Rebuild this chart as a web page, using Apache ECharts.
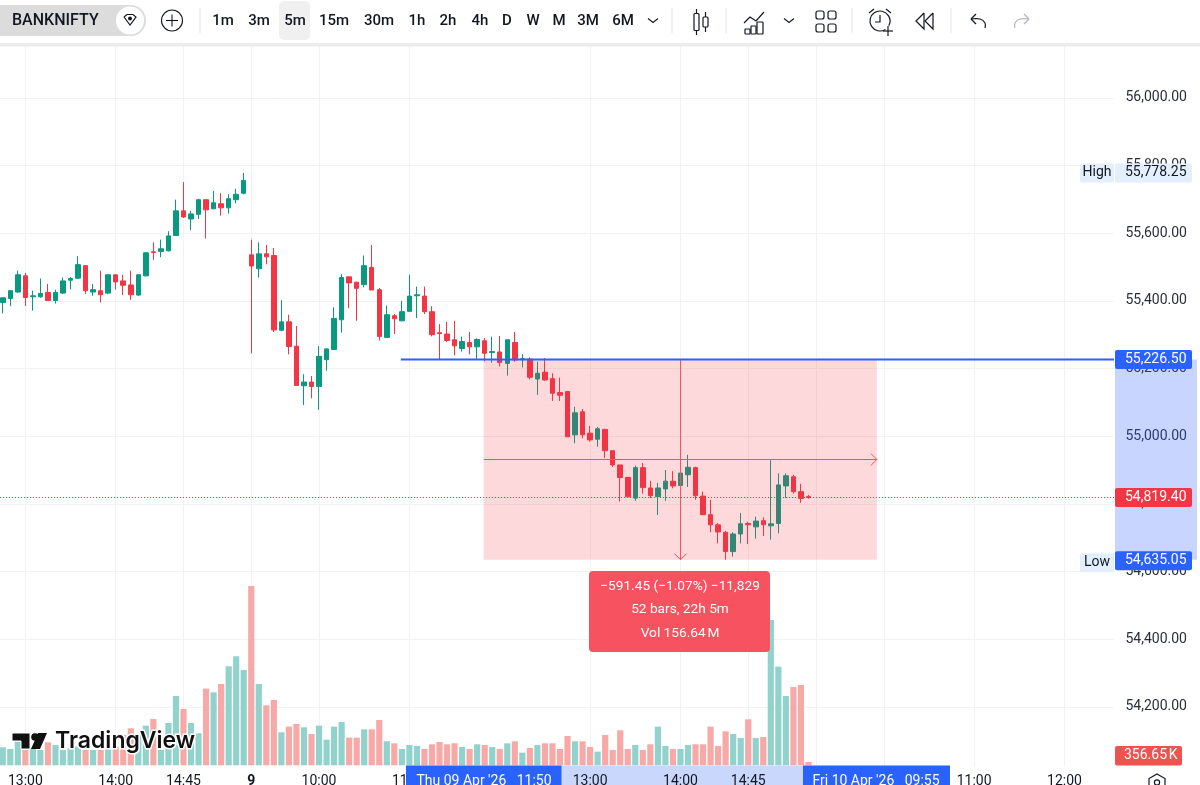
<!DOCTYPE html>
<html>
<head>
<meta charset="utf-8">
<style>
  html, body { margin: 0; padding: 0; background: #fff; overflow: hidden; }
  #chart { width: 1200px; height: 785px; }
</style>
<script src="https://cdn.jsdelivr.net/npm/echarts@6/dist/echarts.min.js"></script>
</head>
<body>
<div id="chart"></div>
<script>
// candle values, 5m bars
const opens = [
  55395,55407,55426,55474,55412,55412,55425,55401,55423,55461,
  55467,55504,55426,55430,55423,55477,55459,55447,55417,55474,
  55545,55546,55548,55593,55666,55642,55656,55699,55672,55687,
  55675,55699,55718,55536,55495,55539,55534,55313,55338,55266,
  55149,55160,55147,55226,55256,55344,55471,55455,55448,55499,
  55433,55292,55356,55341,55369,55415,55414,55368,55306,55302,
  55285,55259,55277,55264,55282,55247,55249,55215,55277,55226,
  55228,55169,55189,55170,55129,55132,55004,55072,55009,54991,
  55020,54957,54915,54878,54817,54907,54847,54821,54844,54867,
  54854,54886,54907,54823,54768,54738,54716,54659,54711,54742,
  54732,54750,54735,54742,54853,54880,54836,54822
]
const closes = [
  55409,55430,55477,55410,55415,55422,55401,55425,55459,55466,
  55507,55430,55433,55418,55477,55456,55446,55418,55477,55542,
  55543,55554,55592,55666,55648,55657,55699,55669,55690,55675,
  55702,55715,55756,55503,55539,55530,55314,55338,55265,55150,
  55160,55147,55236,55258,55348,55469,55453,55437,55504,55432,
  55295,55359,55347,55368,55414,55418,55368,55300,55303,55283,
  55267,55280,55264,55286,55245,55250,55218,55285,55225,55229,
  55174,55186,55166,55127,55121,54998,55069,55004,54989,55022,
  54957,54915,54878,54821,54907,54848,54824,54847,54867,54853,
  54891,54908,54824,54768,54738,54717,54659,54711,54741,54738,
  54749,54738,54741,54856,54883,54836,54816,54819
]
const lows = [
  55363,55385,55424,55385,55371,55409,55400,55392,55420,55434,
  55465,55420,55415,55395,55420,55433,55417,55403,55415,55472,
  55521,55529,55546,55593,55645,55609,55642,55584,55671,55652,
  55658,55688,55715,55245,55469,55508,55308,55310,55242,55150,
  55092,55112,55078,55193,55256,55306,55378,55341,55440,55432,
  55283,55292,55302,55340,55369,55349,55361,55295,55228,55279,
  55239,55250,55242,55226,55221,55217,55206,55179,55220,55203,
  55168,55122,55164,55104,55104,54998,54979,54994,54984,54969,
  54935,54909,54807,54821,54809,54830,54817,54767,54809,54846,
  54854,54850,54812,54768,54716,54683,54635,54644,54683,54681,
  54697,54705,54694,54713,54817,54830,54803,54815
]
const highs = [
  55409,55432,55489,55483,55430,55466,55450,55433,55469,55471,
  55532,55504,55450,55489,55479,55477,55477,55489,55479,55544,
  55573,55581,55606,55699,55751,55666,55702,55699,55725,55718,
  55715,55731,55778,55581,55573,55565,55556,55402,55359,55326,
  55183,55178,55266,55260,55381,55479,55471,55457,55534,55565,
  55438,55386,55361,55400,55477,55442,55442,55384,55331,55338,
  55341,55294,55308,55289,55290,55294,55296,55285,55308,55242,
  55233,55220,55231,55186,55173,55134,55087,55080,55030,55027,
  55022,54958,54915,54880,54913,54921,54868,54862,54900,54897,
  54891,54945,54910,54836,54812,54743,54720,54716,54773,54747,
  54762,54760,54929,54890,54890,54886,54859,54826
]
// volume in thousands
const volumes = [
  1944,1764,2556,1656,1836,1656,2484,2196,1656,1836,
  2016,1656,1656,1656,2016,2016,3276,3996,3276,4284,
  5004,1656,4572,7488,6084,4572,3456,8280,7884,8784,
  10692,11772,10296,19368,8784,6480,7056,3564,4176,4464,
  4104,3384,4284,2772,4176,4680,2988,2988,3888,3888,
  4896,2592,2376,1764,2196,2088,1764,2268,2520,2268,
  2376,1980,1764,2268,2196,1980,1764,2376,2592,1368,
  1872,2196,2376,2376,1764,3168,2592,2592,1980,1476,
  3276,1656,3780,1764,2196,1656,2268,4176,2088,1764,
  1764,2196,2268,2268,4176,2088,3672,3384,2952,4968,
  2952,3060,15696,10656,7488,8460,8676,357
]

// time axis ticks (bar index -> label)
const tickIndex = [3, 15, 24, 33, 42, 54, 78, 90, 99, 108, 117, 129, 141]
const tickLabels = ['13:00', '14:00', '14:45', '9', '10:00', '11:00', '13:00', '14:00', '14:45', '10', '10:00', '11:00', '12:00']
const barSlots = 148

const lastPrice = 54819.40
const levelTop = 55226.50
const levelLow = 54635.05
const dayHigh = 55778.25
const measureMid = 54930
const rangeStart = 64
const rangeEnd = 116
const levelStart = 53

const periods = ['1m', '3m', '5m', '15m', '30m', '1h', '2h', '4h', 'D', 'W', 'M', '3M', '6M']
const periodX = [223, 259, 295, 334, 379, 417, 448, 480, 507, 533, 559, 588, 623]

const UP = '#089981'
const DOWN = '#f23645'
const INK = '#131722'
const FONT = 'Roboto'

const categories = []
for (let i = 0; i < barSlots; i++) categories.push('b' + i)

const fmt = v => v.toLocaleString('en-US', { minimumFractionDigits: 2, maximumFractionDigits: 2 })

const candleData = opens.map((o, i) => [o, closes[i], lows[i], highs[i]])
const volumeData = volumes.map((v, i) => ({
  value: v,
  itemStyle: { color: closes[i] >= opens[i] ? '#92d2cc' : '#f7a9a7' }
}))

const chart = echarts.init(document.getElementById('chart'), null, { renderer: 'canvas' })

const showTick = index => tickIndex.includes(index)

chart.setOption({
  animation: false,
  backgroundColor: '#fff',
  textStyle: { fontFamily: FONT },
  grid: [
    { left: -1, width: 1114.44, top: 30.2, height: 744.3, outerBoundsMode: 'none' },
    { left: -1, width: 1114.44, top: 585, height: 180.3, outerBoundsMode: 'none' }
  ],
  xAxis: [
    {
      type: 'category', gridIndex: 0, data: categories, boundaryGap: true,
      axisLine: { show: false }, axisTick: { show: false }, axisLabel: { show: false },
      splitLine: { show: true, interval: showTick, alignWithLabel: true, lineStyle: { color: '#f2f2f2', width: 1 } }
    },
    {
      type: 'category', gridIndex: 1, data: categories, boundaryGap: true, z: 60,
      axisLine: { show: false }, axisTick: { show: false }, splitLine: { show: false },
      axisLabel: {
        interval: showTick, margin: 9, color: INK, fontSize: 14, fontFamily: FONT,
        formatter: (value, index) => {
          const t = tickLabels[tickIndex.indexOf(index)]
          return t === '9' || t === '10' ? '{b|' + t + '}' : t
        },
        rich: { b: { fontWeight: 'bold', fontSize: 14, color: INK, fontFamily: FONT } }
      }
    }
  ],
  yAxis: [
    {
      type: 'value', gridIndex: 0, position: 'right', min: 54000, max: 56200, interval: 200, scale: true,
      axisLine: { show: false }, axisTick: { show: false },
      axisLabel: { margin: 12, color: '#2a2e39', fontSize: 14, fontFamily: FONT, formatter: v => fmt(v) },
      splitLine: { show: true, lineStyle: { color: '#f2f2f2', width: 1 } }
    },
    {
      type: 'value', gridIndex: 1, min: 0, max: 19472, show: false, splitLine: { show: false }
    }
  ],
  series: [
    {
      name: 'Volume', type: 'bar', xAxisIndex: 1, yAxisIndex: 1, data: volumeData,
      barWidth: 6.2, z: 1, silent: true
    },
    {
      name: 'BANKNIFTY', type: 'candlestick', xAxisIndex: 0, yAxisIndex: 0, data: candleData,
      barWidth: 5, z: 2, silent: true,
      itemStyle: { color: UP, color0: DOWN, borderColor: UP, borderColor0: DOWN, borderColorDoji: UP, borderWidth: 1 }
    }
  ]
})

// overlay drawings sit on the library's scales
const px = i => chart.convertToPixel({ xAxisIndex: 0 }, i)
const py = v => chart.convertToPixel({ yAxisIndex: 0 }, v)

const line = (x1, y1, x2, y2, color, width, z, dash) => ({
  type: 'line', z, silent: true,
  shape: { x1, y1, x2, y2 },
  style: { stroke: color, lineWidth: width, lineDash: dash || null }
})
const rect = (x, y, width, height, fill, z, r) => ({
  type: 'rect', z, silent: true,
  shape: { x, y, width, height, r: r || 0 },
  style: { fill }
})
const label = (x, y, text, fill, size, z, align, weight) => ({
  type: 'text', z, silent: true, x, y,
  style: { text, fill, font: (weight || 'normal') + ' ' + size + 'px ' + FONT, textAlign: align || 'center', textVerticalAlign: 'middle' }
})
const stroke = (points, color, width, z, smooth) => ({
  type: 'polyline', z, silent: true,
  shape: { points, smooth: smooth || 0 },
  style: { stroke: color, lineWidth: width, fill: null }
})
const ring = (cx, cy, r, color, width, z, fill) => ({
  type: 'circle', z, silent: true,
  shape: { cx, cy, r },
  style: { stroke: color, lineWidth: width, fill: fill || null }
})
const box = (x, y, w, h, r, color, width, z) => ({
  type: 'rect', z, silent: true,
  shape: { x, y, width: w, height: h, r },
  style: { stroke: color, lineWidth: width, fill: null }
})

const els = []
const xA = px(rangeStart) - 1
const xB = px(rangeEnd) + 0.6
const xMid = Math.round(px(90)) + 0.5
const yTop = py(levelTop)
const yLow = py(levelLow)
const yMid = Math.round(py(measureMid)) - 0.5
const yLast = Math.round(py(lastPrice)) + 0.5
const RED = '#f7525f'
const BLUE = '#2962ff'
const PALE = '#c8d7fb'

// measure box
els.push(rect(xA, yTop, xB - xA, yLow - yTop, 'rgba(242,54,69,0.19)', 10))
els.push(line(xMid, yTop, xMid, yLow, RED, 1, 12))
els.push(stroke([[xMid - 6, yLow - 6], [xMid, yLow], [xMid + 6, yLow - 6]], RED, 1, 12))
els.push(line(xA, yMid, xB, yMid, RED, 1, 12))
els.push(stroke([[xB - 6, yMid - 6], [xB, yMid], [xB - 6, yMid + 6]], RED, 1, 12))

// level line and last price
els.push(line(px(levelStart) - 1, yTop, 1114, yTop, BLUE, 2, 14))
els.push(line(0, yLast, 1114, yLast, DOWN, 1, 14, [1, 2]))

// measure tooltip
els.push(rect(589, 571, 181, 81, RED, 20, 4))
els.push(label(680, 587, '\u2212591.45 (\u22121.07%) \u221211,829', '#fff', 13.7, 21))
els.push(label(680, 610, '52 bars, 22h 5m', '#fff', 13.7, 21))
els.push(label(680, 634, 'Vol 156.64\u202fM', '#fff', 13.7, 21))

// logo
els.push({
  type: 'polygon', z: 22, silent: true,
  shape: { points: [[12, 733], [30, 733], [30, 749], [21, 749], [21, 741], [12, 741]] },
  style: { fill: '#111', stroke: '#fff', lineWidth: 1 }
})
els.push(ring(35, 737, 3.8, '#111', 0, 22, '#111'))
els.push({
  type: 'polygon', z: 22, silent: true,
  shape: { points: [[38, 733], [47, 733], [40, 749], [31, 749]] },
  style: { fill: '#111' }
})
els.push({
  type: 'text', z: 22, silent: true, x: 55, y: 741,
  style: { text: 'TradingView', fill: '#111', font: '600 23px Inter', textAlign: 'left', textVerticalAlign: 'middle', stroke: '#fff', lineWidth: 3 }
})

// bottom strip and price scale highlight
els.push(rect(0, 766, 1200, 19, '#fff', 30))
els.push(rect(561, 765.5, 242, 20, PALE, 31))
els.push(rect(406, 765.5, 155.5, 20, BLUE, 70))
els.push(label(484, 781.5, "Thu 09 Apr '26   11:50", '#fff', 14, 71))
els.push(rect(803, 765.5, 147, 20, BLUE, 70))
els.push(label(876, 781.5, "Fri 10 Apr '26   09:55", '#fff', 14, 71))

// gear
els.push({
  type: 'polygon', z: 71, silent: true,
  shape: { points: [[1157, 774], [1165, 778.5], [1165, 787], [1157, 792], [1149, 787], [1149, 778.5]] },
  style: { stroke: INK, lineWidth: 1.2, fill: '#fff' }
})
els.push(ring(1157, 782.5, 2.6, INK, 1.2, 72))

els.push(rect(1115, yTop, 82, yLow - yTop, 'rgba(41,98,255,0.26)', 1))

// price tags
const tag = (value, y, bg, color) => {
  els.push(rect(1115, y - 9.5, 77, 19, bg, 40, 2))
  els.push(label(1125, y, fmt(value), color, 14, 41, 'left'))
}
const side = (text, y) => {
  els.push(rect(1080, y - 9.5, 34, 19, '#e3effd', 40, 2))
  els.push(label(1097, y, text, INK, 14, 41))
}
side('High', py(dayHigh))
tag(dayHigh, py(dayHigh), '#e3effd', INK)
tag(levelTop, yTop, BLUE, '#fff')
tag(lastPrice, yLast, DOWN, '#fff')
side('Low', yLow + 3)
tag(levelLow, yLow + 1, BLUE, '#fff')
els.push(rect(1115, 746, 67, 19.5, '#ef5350', 40, 2))
els.push(label(1124, 755.5, '356.65\u202fK', '#fff', 14, 41, 'left'))

// toolbar
els.push(rect(0, 0, 1200, 43, '#fff', 80))
els.push(rect(0, 43, 1200, 3.5, '#ececec', 80))
els.push(rect(-20, 5, 166, 31, '#dcdcdc', 81, 15.5))
els.push(label(12, 21, 'BANKNIFTY', INK, 16, 82, 'left', '500'))
els.push(ring(130, 20.5, 14, '#fff', 0, 82, '#fff'))
els.push(stroke([[124, 17], [127, 14.5], [133, 14.5], [136, 17], [130, 25], [124, 17]], INK, 1.2, 83))
els.push(ring(130, 18.5, 2, INK, 0, 83, INK))
els.push(ring(172, 20.5, 10.5, INK, 1.1, 82))
els.push(line(166, 20.5, 178, 20.5, INK, 1.1, 82))
els.push(line(172, 14.5, 172, 26.5, INK, 1.1, 82))
els.push(line(200, 8, 200, 33, '#e0e3eb', 1, 82))
els.push(rect(279, 1, 31, 39, '#f0f0f0', 81, 5))
periods.forEach((p, i) => els.push(label(periodX[i], 21, p, INK, 15, 82, 'center', '500')))
els.push(stroke([[648, 18.5], [653, 22.5], [658, 18.5]], INK, 1.1, 82))
els.push(line(672, 8, 672, 33, '#e0e3eb', 1, 82))
// candle icon
els.push(box(694, 13.5, 5, 17, 1, INK, 1.2, 82))
els.push(line(696.5, 9, 696.5, 13.5, INK, 1.2, 82))
els.push(line(696.5, 30.5, 696.5, 35, INK, 1.2, 82))
els.push(box(703, 17, 5, 10, 1, INK, 1.2, 82))
els.push(line(705.5, 12, 705.5, 17, INK, 1.2, 82))
els.push(line(705.5, 27, 705.5, 32, INK, 1.2, 82))
els.push(line(726, 8, 726, 33, '#e0e3eb', 1, 82))
// indicators icon
els.push(stroke([[744, 23], [750, 17], [756, 21], [764, 12]], INK, 1.2, 82))
els.push(box(745, 29, 5, 5, 0.5, INK, 1.2, 82))
els.push(box(751, 26, 5, 8, 0.5, INK, 1.2, 82))
els.push(box(757, 22, 6, 12, 0.5, INK, 1.2, 82))
els.push(stroke([[784, 18.5], [789, 22.5], [794, 18.5]], INK, 1.1, 82))
// layout icon
els.push(box(816, 11, 8, 8, 2, INK, 1.2, 82))
els.push(box(828, 11, 8, 8, 2, INK, 1.2, 82))
els.push(box(816, 24, 8, 8, 2, INK, 1.2, 82))
els.push(box(828, 24, 8, 8, 2, INK, 1.2, 82))
els.push(line(852, 8, 852, 33, '#e0e3eb', 1, 82))
// alarm icon
els.push({ type: 'arc', z: 82, silent: true, shape: { cx: 880, cy: 21, r: 10, startAngle: 1.0, endAngle: 0.5 }, style: { stroke: INK, lineWidth: 1.2, fill: null } })
els.push(stroke([[880, 15], [880, 22], [875, 22]], INK, 1.2, 82))
els.push(line(869, 13, 874, 9, INK, 1.2, 82))
els.push(line(886, 9, 891, 13, INK, 1.2, 82))
els.push(line(883, 31, 893, 31, INK, 1.2, 82))
els.push(line(888, 26, 888, 36, INK, 1.2, 82))
// replay icon
els.push(stroke([[924, 13], [916, 21], [924, 29], [924, 13]], INK, 1.2, 82))
els.push(stroke([[933, 13], [925, 21], [933, 29], [933, 13]], INK, 1.2, 82))
els.push(line(951, 8, 951, 33, '#e0e3eb', 1, 82))
// undo and redo
els.push(stroke([[971, 19], [976, 14]], INK, 1.2, 82))
els.push(stroke([[971, 19], [976, 24]], INK, 1.2, 82))
els.push(stroke([[971, 19], [980, 19], [985, 23], [985, 28]], INK, 1.2, 82, 0.4))
els.push(stroke([[1029, 19], [1024, 14]], '#b2b5be', 1.2, 82))
els.push(stroke([[1029, 19], [1024, 24]], '#b2b5be', 1.2, 82))
els.push(stroke([[1029, 19], [1020, 19], [1015, 23], [1015, 28]], '#b2b5be', 1.2, 82, 0.4))

chart.setOption({ graphic: { elements: els } })
</script>
</body>
</html>
